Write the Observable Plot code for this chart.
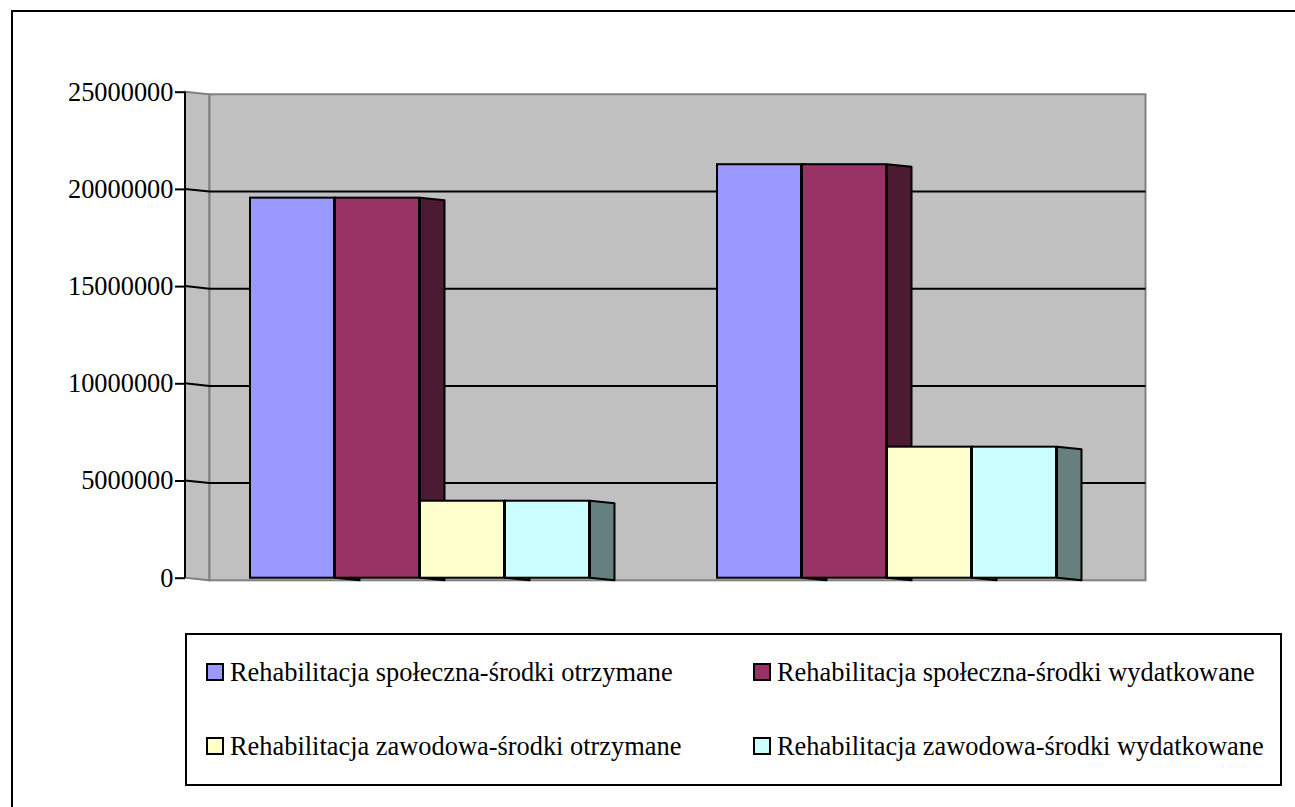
<!DOCTYPE html>
<html><head><meta charset="utf-8">
<script src="https://cdn.jsdelivr.net/npm/d3@7"></script>
<script src="https://cdn.jsdelivr.net/npm/@observablehq/plot@0.6"></script>
<style>
html,body{margin:0;padding:0;background:#fff;overflow:hidden;width:1295px;height:807px;}
#frame{position:absolute;left:11px;top:10px;width:1400px;height:900px;border:2px solid #000;}
#chart{position:absolute;left:0;top:0;}
#legend{position:absolute;left:185px;top:633px;width:1097px;height:153px;box-sizing:border-box;border:2px solid #000;background:#fff;font-family:"Liberation Serif","Times New Roman",serif;font-size:26.4px;color:#000;}
.item{position:absolute;height:30px;display:flex;align-items:center;white-space:nowrap;}
.sw{width:18px;height:18px;box-sizing:border-box;border:2px solid #000;margin-right:6px;flex:none;}
</style></head><body>
<div id="frame"></div><div id="chart"></div><div id="legend"></div>
<script>
// ---- data ----
const groups = ["Okres 1", "Okres 2"];
const seriesNames = [
  "Rehabilitacja społeczna-środki otrzymane",
  "Rehabilitacja społeczna-środki wydatkowane",
  "Rehabilitacja zawodowa-środki otrzymane",
  "Rehabilitacja zawodowa-środki wydatkowane"
];
const spolecznaOtrzymane   = [19550000, 21270000];
const spolecznaWydatkowane = [19550000, 21270000];
const zawodowaOtrzymane    = [3960000, 6740000];
const zawodowaWydatkowane  = [3960000, 6740000];
const frontColors = ["#9999FF", "#993366", "#FFFFCC", "#CCFFFF"];
const sideColors  = ["#4D4D80", "#4D1A33", "#808066", "#668080"];
const yTicks = [0, 5000000, 10000000, 15000000, 20000000, 25000000];

const seriesValues = [spolecznaOtrzymane, spolecznaWydatkowane, zawodowaOtrzymane, zawodowaWydatkowane];
const data = groups.flatMap((g, gi) => seriesNames.map((s, si) => ({group: g, series: s, si, value: seriesValues[si][gi]})));

// ---- layout ----
const W = 1295, H = 625;
const mL = 185, mR = W - 1121, mT = 91.7, mB = H - 577.7;
const DX = 24.5, DY = 2.6; // 3D depth offset
const xOpts = {type: "band", domain: groups, range: [mL, W - mR], paddingInner: 0.2735, paddingOuter: 0.1368};
const xScale = Plot.scale({x: xOpts});
const bw = xScale.bandwidth;
const n = seriesNames.length;

function wall(index, scales, values, dims) {
  const {y} = scales;
  const x0 = dims.marginLeft, x1 = dims.width - dims.marginRight;
  const yTop = y(yTicks[yTicks.length - 1]), yBot = y(0);
  const g = d3.create("svg:g");
  g.append("path").attr("d", `M${x0},${yBot}L${x1},${yBot}L${x1 + DX},${yBot + DY}L${x0 + DX},${yBot + DY}Z`)
    .attr("fill", "#c0c0c0").attr("stroke", "#808080").attr("stroke-width", 1);
  g.append("path").attr("d", `M${x0},${yTop}L${x0 + DX},${yTop + DY}L${x0 + DX},${yBot + DY}L${x0},${yBot}Z`)
    .attr("fill", "#c0c0c0").attr("stroke", "#808080").attr("stroke-width", 2);
  g.append("rect").attr("x", x0 + DX).attr("y", yTop + DY).attr("width", x1 - x0).attr("height", yBot - yTop)
    .attr("fill", "#c0c0c0").attr("stroke", "#808080").attr("stroke-width", 2);
  for (const t of yTicks.slice(1, -1)) {
    const yy = y(t);
    g.append("path").attr("d", `M${x0},${yy}L${x0 + DX},${yy + DY}L${x1 + DX},${yy + DY}`)
      .attr("fill", "none").attr("stroke", "#000").attr("stroke-width", 2);
  }
  g.append("line").attr("x1", x0).attr("x2", x0).attr("y1", yTop).attr("y2", yBot)
    .attr("stroke", "#000").attr("stroke-width", 2);
  return g.node();
}

function sides(index, scales) {
  const {x, y} = scales;
  const g = d3.create("svg:g");
  for (const d of data) {
    const xr = x(d.group) + (d.si + 1) * bw / n;
    const yv = y(d.value), y0 = y(0);
    g.append("path").attr("d", `M${xr},${yv}L${xr + DX},${yv + DY}L${xr + DX},${y0 + DY}L${xr},${y0}Z`)
      .attr("fill", sideColors[d.si]).attr("stroke", "#000").attr("stroke-width", 2).attr("stroke-linejoin", "round");
  }
  return g.node();
}

const fronts = seriesNames.map((s, si) => Plot.barY(data.filter(d => d.si === si), {
  x: "group", y: "value", fill: frontColors[si], stroke: "#000", strokeWidth: 2,
  insetLeft: si * bw / n, insetRight: (n - 1 - si) * bw / n
}));

const hasAxisMark = typeof Plot.axisY === "function";
const marks = [wall, sides, ...fronts];
if (hasAxisMark) marks.push(Plot.axisY({ticks: yTicks, tickFormat: d => String(d), tickSize: 10, tickPadding: 2, strokeWidth: 2, label: null}));

const chart = Plot.plot({
  width: W, height: H,
  marginLeft: mL, marginRight: mR, marginTop: mT, marginBottom: mB,
  style: {fontFamily: "'Liberation Serif','Times New Roman',serif", fontSize: "26.4px", color: "#000", background: "transparent", overflow: "visible"},
  x: {...xOpts, axis: null},
  y: {domain: [0, 25000000], ticks: yTicks, tickFormat: d => String(d), tickSize: 10, tickPadding: 2, label: null, axis: hasAxisMark ? null : "left"},
  marks
});
document.getElementById("chart").appendChild(chart);

// ---- legend ----
const legend = d3.select("#legend");
const pos = [[19, 22], [566, 22], [19, 96], [566, 96]];
seriesNames.forEach((s, i) => {
  const it = legend.append("div").attr("class", "item").style("left", pos[i][0] + "px").style("top", pos[i][1] + "px");
  it.append("div").attr("class", "sw").style("background", frontColors[i]);
  it.append("span").text(s);
});
</script>
</body></html>
